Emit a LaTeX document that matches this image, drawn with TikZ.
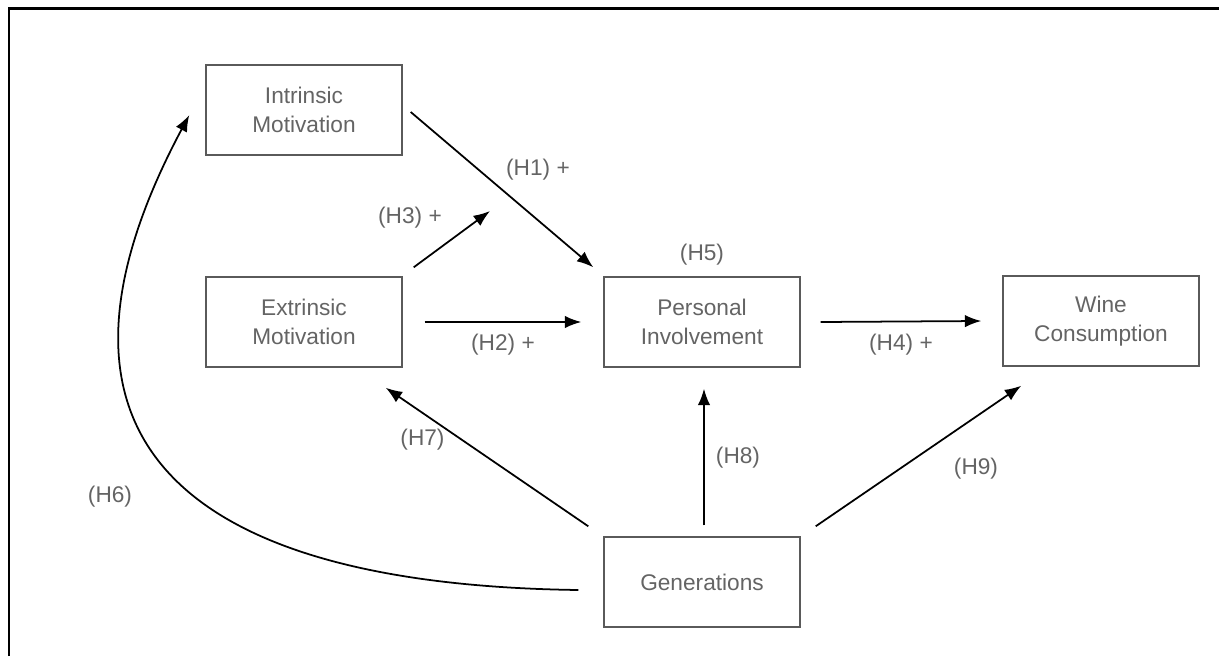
\documentclass[tikz,border=0pt]{standalone}
\usepackage{fontspec}
\setmainfont{Liberation Sans}
\usetikzlibrary{arrows.meta, positioning, calc}
\definecolor{boxgray}{RGB}{90,90,90}
\definecolor{txtgray}{RGB}{100,100,100}

\begin{document}
\begin{tikzpicture}[
    varbox/.style={rectangle, draw=boxgray, line width=0.8pt, minimum width=3.92cm, minimum height=1.8cm, align=center, text=txtgray, font=\fontsize{12.9}{16.5}\selectfont},
    arrow/.style={-{Latex[length=3.3mm, width=2.5mm]}, line width=1pt},
    hyp/.style={text=txtgray, font=\fontsize{12.9}{16.5}\selectfont}
]
    \useasboundingbox (0,0) rectangle (24.38,13.12);

    % Frame
    \draw [line width=1.7pt] (0.18,0) -- (0.18,12.95) -- (24.38,12.95);

    % Intrinsic Motivation
    \node [varbox] (IM) at (6.08, 10.92) {Intrinsic\\Motivation};

    % Extrinsic Motivation
    \node [varbox] (EM) at (6.08, 6.68) {Extrinsic\\Motivation};

    % Personal Involvement
    \node [varbox] (PI) at (14.04, 6.68) {Personal\\Involvement};

    % Wine Consumption
    \node [varbox] (WC) at (22.02, 6.70) {Wine\\Consumption};

    % Generations
    \node [varbox] (GEN) at (14.04, 1.48) {Generations};

    % Tip of the moderating arrow
    \coordinate (H3tip) at (9.8, 8.90);

    % Direct effects
    \draw [arrow] ($(IM.east)+(0.16,-0.04)$) -- ($(PI.north west)+(-0.2,0.18)$);
    \draw [arrow] ($(EM.east)+(0.44,0)$) -- ($(PI.west)+(-0.44,0)$);
    \draw [arrow] ($(PI.east)+(0.4,0)$) -- ($(WC.west)+(-0.42,0)$);

    % Moderation
    \draw [arrow] ($(EM.north east)+(0.22,0.18)$) -- (H3tip);

    % Generations
    \draw [arrow] ($(GEN.west)+(-0.5,-0.16)$) .. controls (4.0, 1.42) and (0.2, 4.1) .. ($(IM.west)+(-0.32,-0.1)$);
    \draw [arrow] ($(GEN.north west)+(-0.3,0.2)$) -- ($(EM.south east)+(-0.34,-0.4)$);
    \draw [arrow] ($(GEN.north)+(0.04,0.22)$) -- ($(PI.south)+(0.04,-0.42)$);
    \draw [arrow] ($(GEN.north east)+(0.3,0.2)$) -- ($(WC.south west)+(0.38,-0.38)$);

    % Hypothesis labels
    \node [hyp] (L1) at (10.76, 9.72) {(H1) +};
    \node [hyp] (L2) at (10.06, 6.22) {(H2) +};
    \node [hyp] (L3) at (8.2, 8.76) {(H3) +};
    \node [hyp] (L4) at (18.02, 6.22) {(H4) +};
    \node [hyp] (L5) at (14.04, 8.02) {(H5)};
    \node [hyp] (L6) at (2.2, 3.18) {(H6)};
    \node [hyp] (L7) at (8.45, 4.32) {(H7)};
    \node [hyp] (L8) at (14.76, 3.96) {(H8)};
    \node [hyp] (L9) at (19.52, 3.74) {(H9)};

\end{tikzpicture}
\end{document}
